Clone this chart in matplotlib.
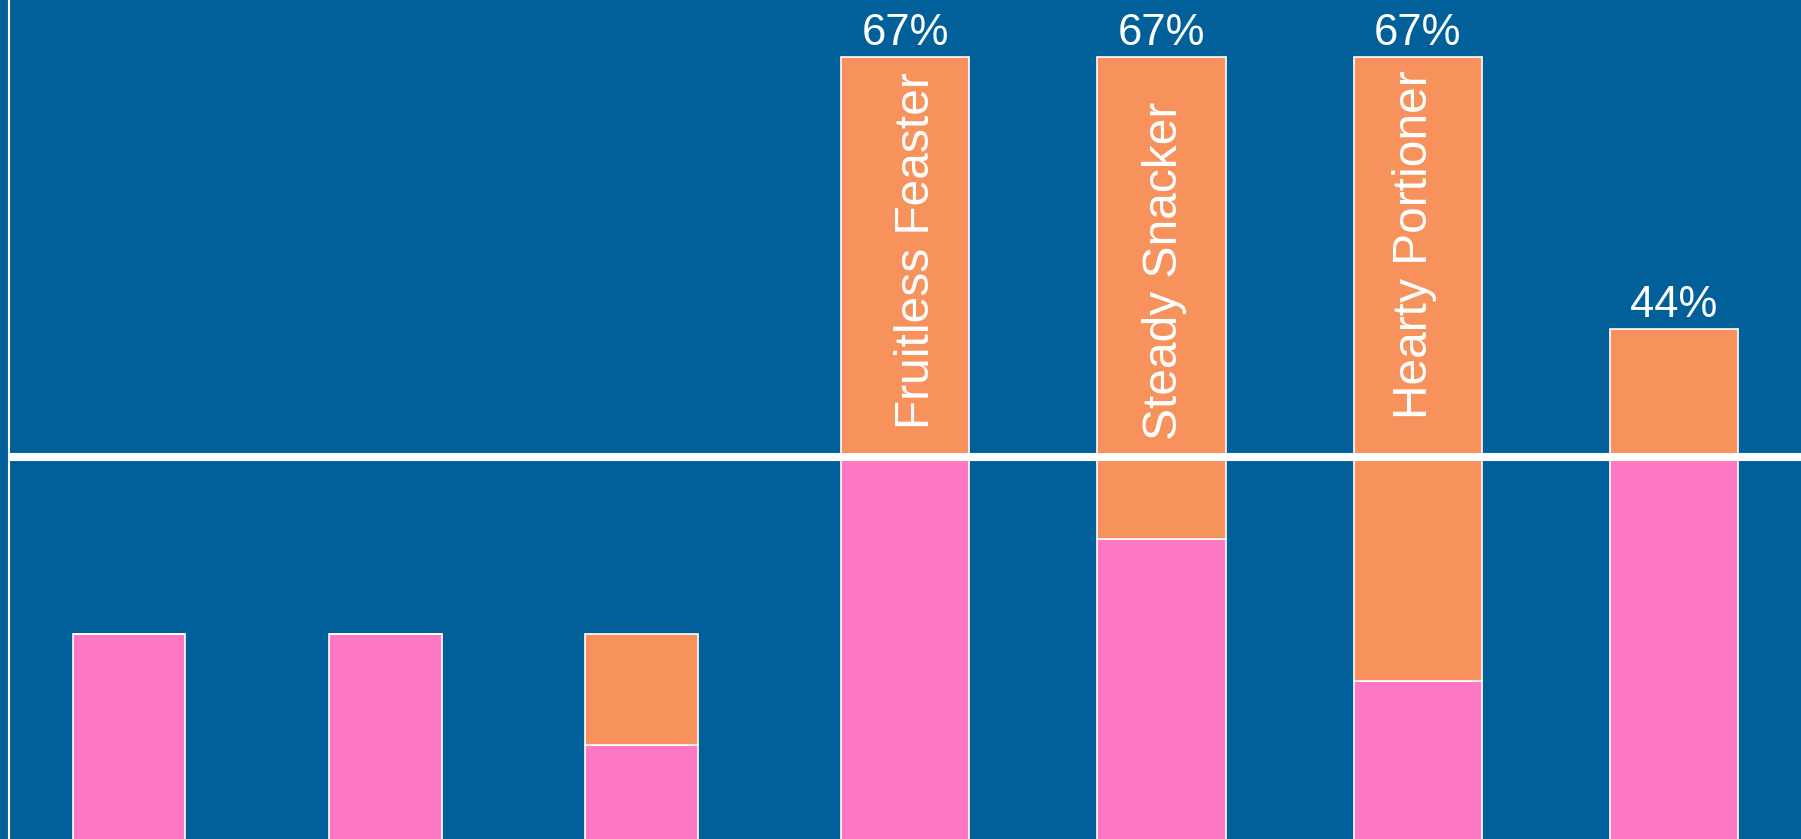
import matplotlib
matplotlib.use('Agg')
import matplotlib.pyplot as plt
import numpy as np

# data (percent of respondents)
pink_vals = [18.3, 18.3, 8.9, 33.2, 26.3, 14.3, 33.2]
orange_vals = [0.0, 0.0, 9.4, 33.8, 40.7, 52.7, 10.8]
bar_names = ['', '', '', 'Fruitless Feaster', 'Steady Snacker', 'Hearty Portioner', '']
threshold = 33.2

# layout / style
bar_widths = [0.44, 0.44, 0.44, 0.5, 0.5, 0.5, 0.5]
name_y = [None, None, None, 50.6, 48.9, 51.1, None]
name_dx = [0, 0, 0, 8, 2, -2, 0]  # points, nudges the rotated names sideways
bg_color = '#01609a'
pink_color = '#ff78c4'
orange_color = '#f7925c'
plt.rcParams['font.family'] = ['Liberation Sans', 'DejaVu Sans']

fig = plt.figure(figsize=(18.01, 8.39), dpi=100, facecolor=bg_color)
ax = fig.add_axes([9 / 1801, 0, 1 - 9 / 1801, 1])
ax.set_facecolor(bg_color)

x = np.arange(len(pink_vals))
pink = np.array(pink_vals)
orange = np.array(orange_vals)
totals = pink + orange

ax.bar(x, pink, width=bar_widths, align='edge', color=pink_color,
       edgecolor='white', linewidth=1.2, zorder=2)
ax.bar(x, orange, bottom=pink, width=bar_widths, align='edge', color=orange_color,
       edgecolor='white', linewidth=1.2, zorder=2)

ax.axhline(threshold, color='white', linewidth=5.8, zorder=3)

for i in range(len(x)):
    cx = x[i] + bar_widths[i] / 2
    if totals[i] > threshold:
        ax.annotate('{0:.0f}%'.format(totals[i]), xy=(cx, totals[i]), xytext=(0, 8.6),
                    textcoords='offset points', ha='center', va='baseline',
                    color='white', fontsize=31.5, zorder=4)
    if bar_names[i]:
        ax.annotate(bar_names[i], xy=(cx, name_y[i]), xytext=(name_dx[i], 0),
                    textcoords='offset points', rotation=90, ha='center', va='center',
                    color='white', fontsize=34.5, zorder=4)

ax.set_xlim(-0.2486, 6.746)
ax.set_ylim(0.99, 71.79)

for side in ['top', 'right', 'bottom']:
    ax.spines[side].set_visible(False)
ax.spines['left'].set_color('white')
ax.spines['left'].set_linewidth(1.5)
ax.set_xticks([])
ax.set_yticks([])

plt.savefig('out.png', dpi=100, facecolor=bg_color)
